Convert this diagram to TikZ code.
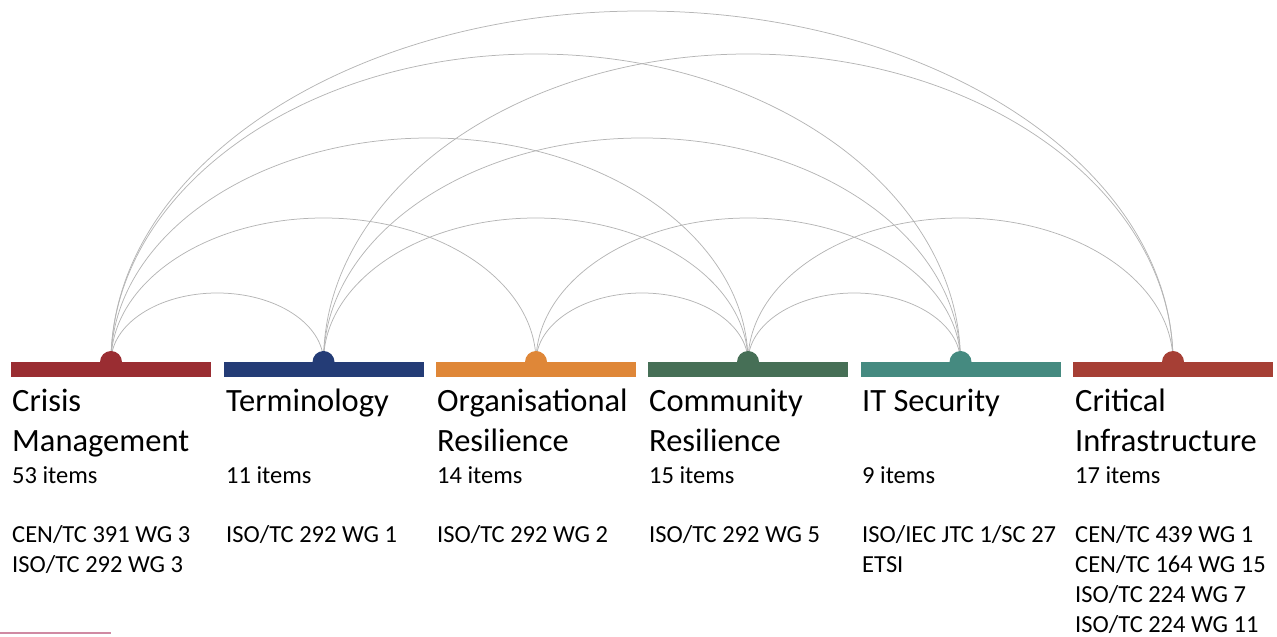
\documentclass[tikz,border=0pt]{standalone}
\usepackage{fontspec}
\setmainfont{Carlito}
\usetikzlibrary{calc}
\definecolor{cmred}{HTML}{9A2D32}
\definecolor{termblue}{HTML}{243C76}
\definecolor{orgorange}{HTML}{DF8738}
\definecolor{comgreen}{HTML}{466F56}
\definecolor{itteal}{HTML}{458A80}
\definecolor{cired}{HTML}{A63F35}
\definecolor{linkgray}{HTML}{B5B5B5}
\definecolor{footpink}{HTML}{D08AA3}
\begin{document}
\begin{tikzpicture}[x=1pt, y=1pt, line join=round, line cap=round,
	link/.style={draw=linkgray, line width=0.75pt},
	title/.style={anchor=base west, align=left, inner sep=0pt, font=\fontsize{32.5}{40}\selectfont},
	info/.style={anchor=base west, align=left, inner sep=0pt, font=\fontsize{24.5}{30}\selectfont}]
		\useasboundingbox (0,0) rectangle (1277,637);
		\coordinate (CM) at (111,275);
		\coordinate (TM) at (323.5,275);
		\coordinate (OR) at (536,275);
		\coordinate (CR) at (748,275);
		\coordinate (IT) at (960.5,275);
		\coordinate (CI) at (1173,275);
		\foreach \a/\b/\h in {CM/TM/69, CM/OR/144, CM/CR/224, CM/IT/308, CM/CI/351,
			TM/CR/144, TM/IT/224, TM/CI/308, OR/CR/69, OR/IT/144, CR/IT/69, CR/CI/144}
		\draw[link] let \p1=(\a), \p2=(\b) in (\a) arc[start angle=180, end angle=0, x radius={(\x2-\x1)/2}, y radius=\h pt];
		\foreach \c/\col in {CM/cmred, TM/termblue, OR/orgorange, CR/comgreen, IT/itteal, CI/cired}{
			\fill[\col] ($(\c)+(-100,-15)$) rectangle ($(\c)+(100,0)$);
			\fill[\col] (\c) circle(11);
		}
		\node[title] (tCM) at (12,185) {Crisis\\Management};
		\node[title] (tTM) at (226,225) {Terminology};
		\node[title] (tOR) at (437,185) {Organisational\\Resilience};
		\node[title] (tCR) at (649,185) {Community\\Resilience};
		\node[title] (tIT) at (862,225) {IT Security};
		\node[title] (tCI) at (1075,185) {Critical\\Infrastructure};
		\node[info] (nCM) at (12,153) {53 items};
		\node[info] (nTM) at (226,153) {11 items};
		\node[info] (nOR) at (437,153) {14 items};
		\node[info] (nCR) at (649,153) {15 items};
		\node[info] (nIT) at (862,153) {9 items};
		\node[info] (nCI) at (1075,153) {17 items};
		\node[info] (gCM) at (12,64) {CEN/TC 391 WG 3\\ISO/TC 292 WG 3};
		\node[info] (gTM) at (226,94) {ISO/TC 292 WG 1};
		\node[info] (gOR) at (437,94) {ISO/TC 292 WG 2};
		\node[info] (gCR) at (649,94) {ISO/TC 292 WG 5};
		\node[info] (gIT) at (862,64) {ISO/IEC JTC 1/SC 27\\ETSI};
		\node[info] (gCI) at (1075,4) {CEN/TC 439 WG 1\\CEN/TC 164 WG 15\\ISO/TC 224 WG 7\\ISO/TC 224 WG 11};
		\coordinate (footL) at (0,4);
		\coordinate (footR) at (111,4);
		\draw[footpink, line width=1.5pt, line cap=butt] (footL) -- (footR);
		\end{tikzpicture}
\end{document}
